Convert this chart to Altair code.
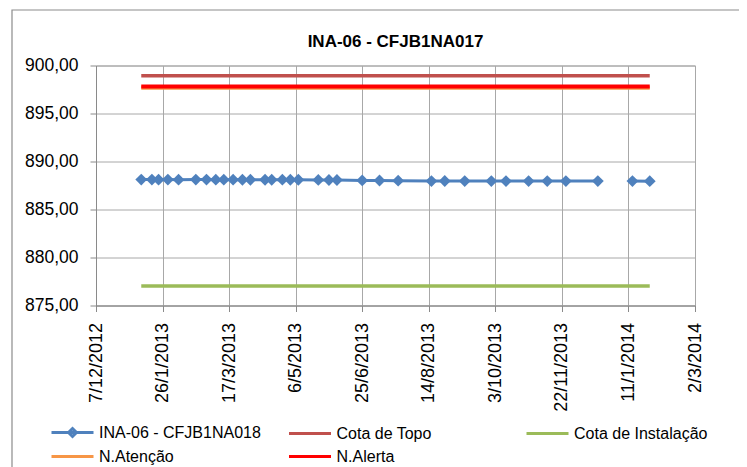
import altair as alt
import pandas as pd

# ---------------- data ----------------
title_text = "INA-06 - CFJB1NA017"
series_name = "INA-06 - CFJB1NA018"

dates = ["2013-01-10", "2013-01-18", "2013-01-23", "2013-01-30", "2013-02-07",
         "2013-02-20", "2013-02-28", "2013-03-07", "2013-03-13", "2013-03-20",
         "2013-03-27", "2013-04-02", "2013-04-13", "2013-04-18", "2013-04-26",
         "2013-05-02", "2013-05-08", "2013-05-23", "2013-05-31", "2013-06-06",
         "2013-06-25", "2013-07-08", "2013-07-22", "2013-08-16", "2013-08-26",
         "2013-09-10", "2013-09-30", "2013-10-11", "2013-10-28", "2013-11-11",
         "2013-11-25", "2013-12-19", "2014-01-02", "2014-01-14", "2014-01-27"]
values = [888.12, 888.12, 888.11, 888.12, 888.11,
          888.12, 888.12, 888.11, 888.11, 888.11,
          888.10, 888.10, 888.10, 888.10, 888.11,
          888.10, 888.10, 888.08, 888.07, 888.07,
          888.03, 888.02, 888.00, 887.96, 887.97,
          887.96, 887.96, 887.96, 887.96, 887.96,
          887.96, 887.96, None, 887.96, 887.95]

level_names = ["Cota de Topo", "Cota de Instalação", "N.Atenção", "N.Alerta"]
level_values = [898.93, 877.02, 897.68, 897.82]

legend_order = [series_name, "Cota de Topo", "Cota de Instalação", "N.Atenção", "N.Alerta"]
legend_colors = ["#4F81BD", "#C0504D", "#9BBB59", "#F79646", "#FF0000"]

x_ticks = [(2012, 12, 7), (2013, 1, 26), (2013, 3, 17), (2013, 5, 6), (2013, 6, 25),
           (2013, 8, 14), (2013, 10, 3), (2013, 11, 22), (2014, 1, 11), (2014, 3, 2)]
y_ticks = [875, 880, 885, 890, 895, 900]

# ---------------- tables ----------------
df = pd.DataFrame({"date": dates, "value": values, "series": series_name})
valid_dates = [d for d, v in zip(dates, values) if v is not None]
ref_rows = []
for n, v in zip(level_names, level_values):
    for d in (valid_dates[0], valid_dates[-1]):
        ref_rows.append({"series": n, "date": d, "value": v})
ref_df = pd.DataFrame(ref_rows)
legend_df = pd.DataFrame({"series": legend_order})

FONT = "Liberation Sans"
GRID = "#a8a8a8"
AXIS = "#8a8a8a"

def dt(t):
    return alt.DateTime(year=t[0], month=t[1], date=t[2], utc=True)

x_enc = alt.X(
    "date:T",
    scale=alt.Scale(type="utc", domain=[dt(x_ticks[0]), dt(x_ticks[-1])]),
    axis=alt.Axis(values=[dt(t) for t in x_ticks],
                  labelExpr="utcFormat(datum.value, '%-d/%-m/%Y')",
                  labelAngle=270, labelFlush=False, labelOverlap=False,
                  tickSize=6, labelPadding=11, labelFontSize=18,
                  labelColor="black", title=None, grid=True,
                  gridColor=GRID, domainColor=AXIS, tickColor=AXIS),
)
y_enc = alt.Y(
    "value:Q",
    scale=alt.Scale(domain=[y_ticks[0], y_ticks[-1]], nice=False, zero=False),
    axis=alt.Axis(values=y_ticks,
                  labelExpr="replace(format(datum.value, '.2f'), '.', ',')",
                  tickSize=6, labelPadding=12, labelFontSize=17.5,
                  labelColor="black", title=None, grid=True,
                  gridColor=GRID, domainColor=AXIS, tickColor=AXIS),
)

color_scale = alt.Scale(domain=legend_order, range=legend_colors)
shape_paths = ["M-4.2,0H4.2M0,-0.8L0.8,0L0,0.8L-0.8,0Z"] + ["M-4.2,0H4.2"] * 4

leg = dict(orient="none", legendX=-31.5, legendY=359, direction="horizontal",
           columns=3, gridAlign="all", columnPadding=21.5, rowPadding=6,
           labelFont=FONT, labelFontSize=16, labelLimit=400, labelColor="black",
           symbolSize=100, symbolStrokeWidth=3, labelOffset=18.5,
           symbolOpacity=1, padding=0)

frame = alt.Chart(pd.DataFrame({"f": [0]})).mark_rect(
    fill="transparent", stroke="#8c8c8c", strokeWidth=1.2
).encode(x=alt.value(-84), y=alt.value(-55.5), x2=alt.value(720), y2=alt.value(470))

ref_layers = []
widths = {"Cota de Topo": 3.5, "Cota de Instalação": 3.5, "N.Atenção": 4, "N.Alerta": 4}
for n in level_names:
    ref_layers.append(
        alt.Chart(ref_df).transform_filter(alt.datum.series == n)
        .mark_line(strokeWidth=widths[n], strokeCap="butt",
                   color=legend_colors[legend_order.index(n)])
        .encode(x=x_enc, y=y_enc)
    )

data_line = alt.Chart(df).mark_line(strokeWidth=3, color=legend_colors[0]).encode(x=x_enc, y=y_enc)
data_pts = alt.Chart(df).mark_point(shape="diamond", filled=True, size=140,
                                    color=legend_colors[0], opacity=1).encode(x=x_enc, y=y_enc)

legend_layer = alt.Chart(legend_df).mark_point(filled=False, strokeWidth=3, size=0).encode(
    color=alt.Color("series:N", scale=color_scale, title=None, legend=alt.Legend(**leg)),
    shape=alt.Shape("series:N", scale=alt.Scale(domain=legend_order, range=shape_paths),
                    title=None, legend=alt.Legend(**leg)),
)

chart = alt.layer(frame, *ref_layers, data_line, data_pts, legend_layer).properties(
    width=599, height=240,
    title=alt.TitleParams(title_text, font=FONT, fontSize=17, fontWeight="bold",
                          anchor="middle", offset=-55, baseline="alphabetic", color="black"),
    autosize=alt.AutoSizeParams(type="none"),
    padding={"left": 88, "top": 57.5, "right": 44, "bottom": 163},
).configure(font=FONT, background="white").configure_view(stroke=GRID)

chart.save("out.html", embed_options={"renderer": "svg", "actions": False})
